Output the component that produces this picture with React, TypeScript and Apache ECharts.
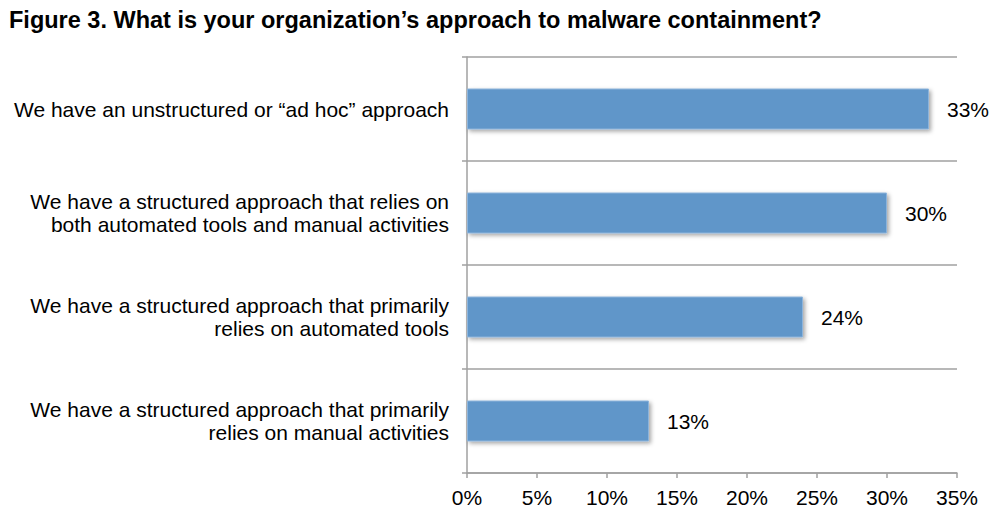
import React, { useEffect, useRef } from "react";
import * as echarts from "echarts";

const titleText = "Figure 3. What is your organization\u2019s approach to malware containment?";
const categories = [
  "We have an unstructured or \u201cad hoc\u201d approach",
  "We have a structured approach that relies on\nboth automated tools and manual activities",
  "We have a structured approach that primarily\nrelies on automated tools",
  "We have a structured approach that primarily\nrelies on manual activities",
];
const values = [33, 30, 24, 13];
const xTicks = { min: 0, max: 35, interval: 5 };

export default function App() {
  const ref = useRef<HTMLDivElement>(null);
  useEffect(() => {
    if (!ref.current) return;
    const chart = echarts.init(ref.current, undefined, { renderer: "svg" });
    const font = "Arial, 'Liberation Sans', sans-serif";
    chart.setOption({
      animation: false,
      title: {
        text: titleText,
        left: 4,
        top: 3,
        textStyle: { fontFamily: font, fontSize: 23.5, fontWeight: "bold", color: "#000" },
      },
      grid: { left: 467, right: 33, top: 57, bottom: 37, containLabel: false },
      xAxis: {
        type: "value",
        min: xTicks.min,
        max: xTicks.max,
        interval: xTicks.interval,
        axisLine: { show: true, lineStyle: { color: "#a0a0a0", width: 1.5 } },
        axisTick: { show: true, length: 5, lineStyle: { color: "#a0a0a0", width: 1.5 } },
        splitLine: { show: false },
        axisLabel: {
          formatter: "{value}%",
          fontFamily: font,
          fontSize: 21,
          color: "#000",
          margin: 14,
        },
      },
      yAxis: {
        type: "category",
        data: categories,
        inverse: true,
        axisLine: { show: true, lineStyle: { color: "#a0a0a0", width: 1.5 } },
        axisTick: { show: true, length: 5, lineStyle: { color: "#a0a0a0", width: 1.5 } },
        splitLine: { show: true, lineStyle: { color: "#a0a0a0", width: 1.5 } },
        axisLabel: {
          fontFamily: font,
          fontSize: 21,
          color: "#000",
          margin: 18,
          lineHeight: 23,
          align: "right",
        },
      },
      series: [
        {
          type: "bar",
          data: values,
          barWidth: 41,
          itemStyle: {
            color: "#6096c9",
            borderColor: "#8db4db",
            borderWidth: 1,
            shadowColor: "rgba(0,0,0,0.35)",
            shadowBlur: 4,
            shadowOffsetX: 2,
            shadowOffsetY: 2,
          },
          label: {
            show: true,
            position: "right",
            distance: 18,
            formatter: "{c}%",
            fontFamily: font,
            fontSize: 21,
            color: "#000",
          },
        },
      ],
    });
    return () => chart.dispose();
  }, []);
  return <div ref={ref} style={{ width: 990, height: 510, position: "absolute", left: 0, top: 0, background: "#fff" }} />;
}
